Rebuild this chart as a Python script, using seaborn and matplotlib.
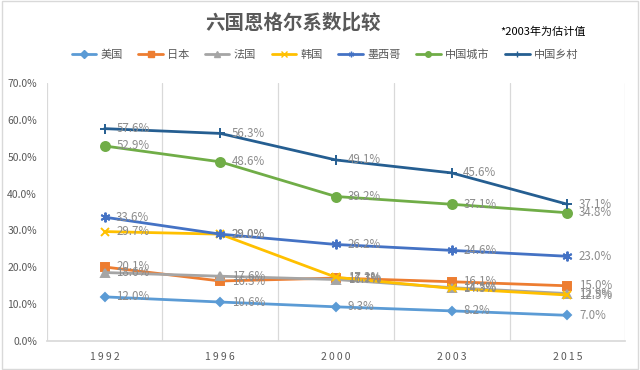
import pandas as pd
import seaborn as sns
import matplotlib.pyplot as plt
from matplotlib.ticker import FuncFormatter

# data (Engel coefficient, %)
years = ["1992", "1996", "2000", "2003", "2015"]
usa = [12.0, 10.6, 9.3, 8.2, 7.0]
japan = [20.1, 16.3, 17.1, 16.1, 15.0]
france = [18.6, 17.6, 16.7, 14.5, 12.9]
korea = [29.7, 29.0, 17.3, 14.3, 12.5]
mexico = [33.6, 29.0, 26.2, 24.6, 23.0]
cn_city = [52.9, 48.6, 39.2, 37.1, 34.8]
cn_rural = [57.6, 56.3, 49.1, 45.6, 37.1]

names = ["美国", "日本", "法国", "韩国", "墨西哥", "中国城市", "中国乡村"]
series = [usa, japan, france, korea, mexico, cn_city, cn_rural]
colors = ["#5B9BD5", "#ED7D31", "#A5A5A5", "#FFC000", "#4472C4", "#70AD47", "#255E91"]
markers = ["D", "s", "^", "x", (6, 2, 0), "o", "+"]
msizes = [4.5, 6, 5.5, 6, 7, 6.5, 7.5]

rows = []
for n, vals in zip(names, series):
    for y, v in zip(years, vals):
        rows.append({"年份": y, "国家": n, "值": v})
df = pd.DataFrame(rows)

sns.set_theme(style="white")
plt.rcParams['font.family'] = ['Noto Sans CJK SC', 'DejaVu Sans']

fig = plt.figure(figsize=(6.4, 3.7), dpi=100)
ax = fig.add_axes([0.073, 0.078, 0.904, 0.698])

sns.lineplot(data=df, x="年份", y="值", hue="国家", palette=colors,
             sort=False, linewidth=2.0, ax=ax, legend=False)
# markers set per line (seaborn won't mix filled and line markers)
for line, c, m, ms in zip(ax.lines, colors, markers, msizes):
    line.set_marker(m)
    line.set_markersize(ms)
    line.set_markeredgewidth(1.4)
    line.set_markeredgecolor(c)
    line.set_markerfacecolor(c)

# data labels
for vals in series:
    for i, v in enumerate(vals):
        ax.text(i + 0.1, v, f"{v:.1f}%", fontsize=8.3, color="#8C8C8C",
                va="center", ha="left")

ax.set_xlim(-0.5, 4.5)
ax.set_ylim(0, 70)
ax.set_yticks(range(0, 71, 10))
ax.yaxis.set_major_formatter(FuncFormatter(lambda v, p: f"{v:.1f}%"))
ax.set_xlabel("")
ax.set_ylabel("")
ax.tick_params(axis="both", labelsize=7.5, colors="#595959", length=0)
ax.tick_params(axis="x", pad=8)
ax.tick_params(axis="y", pad=7)
ax.set_xticks(range(len(years)))
ax.set_xticklabels(["\u2009".join(y) for y in years])
for b in [-0.5, 0.5, 1.5, 2.5, 3.5, 4.5]:
    ax.axvline(b, color="#D9D9D9", linewidth=0.9, zorder=0)
for s in ["top", "right", "left"]:
    ax.spines[s].set_visible(False)
ax.spines["bottom"].set_color("#D9D9D9")

# legend
handles = [plt.Line2D([], [], color=c, marker=m, markersize=4, linewidth=2,
                      markeredgecolor=c) for c, m in zip(colors, markers)]
fig.legend(handles, names, loc="center", bbox_to_anchor=(0.508, 0.852), ncol=7,
           frameon=False, fontsize=8, handlelength=2.2, columnspacing=1.4,
           handletextpad=0.4, labelcolor="#595959")

fig.text(0.458, 0.94, "六国恩格尔系数比较", ha="center", va="center",
         fontsize=14, fontweight="bold", color="#595959")
fig.text(0.782, 0.915, "*2003年为估计值", ha="left", va="center",
         fontsize=8, color="#000000")

fig.patches.append(plt.Rectangle((0.003, 0.003), 0.994, 0.994, transform=fig.transFigure,
                                 fill=False, edgecolor="#D9D9D9", linewidth=1))

fig.savefig("out.png", dpi=100)
